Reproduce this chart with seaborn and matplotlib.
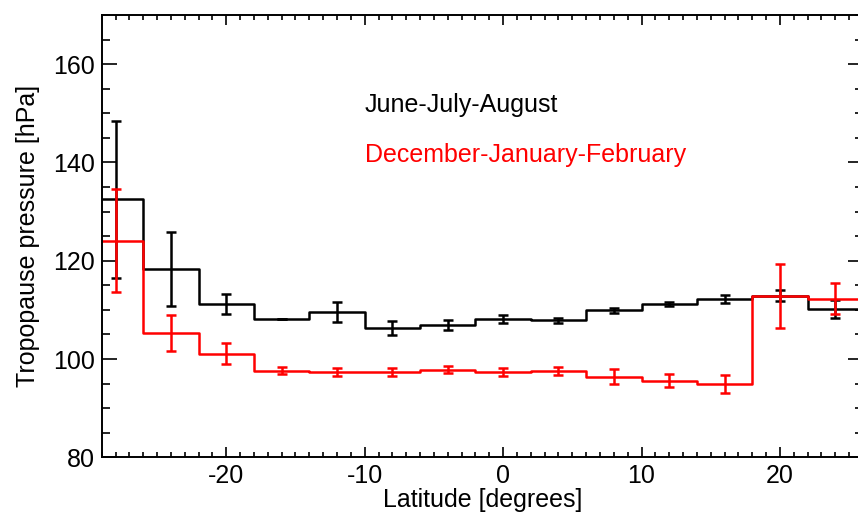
import numpy as np
import pandas as pd
import matplotlib
matplotlib.use("Agg")
import matplotlib.pyplot as plt
import seaborn as sns
from matplotlib.ticker import MultipleLocator

sns.set_theme(style="white")
plt.rcParams['font.family'] = ['Liberation Sans', 'DejaVu Sans']
plt.rcParams['axes.unicode_minus'] = False
plt.rcParams['text.color'] = 'black'
plt.rcParams['axes.labelcolor'] = 'black'
plt.rcParams['xtick.color'] = 'black'
plt.rcParams['ytick.color'] = 'black'

latitude = [-28, -24, -20, -16, -12, -8, -4, 0, 4, 8, 12, 16, 20, 24]
jja = [132.5, 118.3, 111.2, 108.1, 109.6, 106.3, 107.0, 108.1, 107.9, 109.9, 111.2, 112.2, 112.9, 110.2]
jja_err = [16.0, 7.6, 2.0, 0.0, 2.0, 1.5, 1.0, 0.8, 0.5, 0.5, 0.5, 0.8, 1.1, 1.9]
djf = [124.1, 105.3, 101.1, 97.6, 97.3, 97.3, 97.8, 97.3, 97.6, 96.4, 95.6, 94.9, 112.9, 112.3]
djf_err = [10.4, 3.6, 2.2, 0.7, 0.8, 0.8, 0.7, 0.8, 0.8, 1.5, 1.3, 1.85, 6.5, 3.2]
bin_width = 4.0

fig = plt.figure(figsize=(8.58, 5.14), dpi=100)
ax = fig.add_axes([0.1185, 0.1103, 0.8873, 0.8605])

lat = np.array(latitude, dtype=float)
edges = np.append(lat - bin_width / 2, lat[-1] + bin_width / 2)

for vals, errs, col in [(jja, jja_err, 'black'), (djf, djf_err, '#ff0000')]:
    v = np.array(vals)
    df = pd.DataFrame({'x': edges, 'y': np.append(v, v[-1])})
    sns.lineplot(data=df, x='x', y='y', drawstyle='steps-post', color=col,
                 lw=1.8, estimator=None, sort=False, ax=ax)
    ax.errorbar(lat, v, yerr=errs, fmt='none', ecolor=col, elinewidth=1.8,
                capsize=3.5, capthick=1.8)

ax.set_xlim(-29, 26)
ax.set_ylim(80, 170)
ax.set_xticks([-20, -10, 0, 10, 20])
ax.set_yticks([80, 100, 120, 140, 160])
ax.xaxis.set_minor_locator(MultipleLocator(1))
ax.yaxis.set_minor_locator(MultipleLocator(5))
ax.tick_params(which='both', direction='in', top=True, right=True,
               bottom=True, left=True, color='black', width=1.2)
ax.tick_params(axis='x', which='major', length=7.2, labelsize=18, pad=4.5)
ax.tick_params(axis='x', which='minor', length=3.6)
ax.tick_params(axis='y', which='major', length=10.8, labelsize=18, pad=5)
ax.tick_params(axis='y', which='minor', length=5.8)
for s in ax.spines.values():
    s.set_color('black')
    s.set_linewidth(1.4)

ax.set_xlabel('Latitude [degrees]', fontsize=18, labelpad=0)
ax.set_ylabel('Tropopause pressure [hPa]', fontsize=18, labelpad=9)

ax.text(-10.0, 151.7, 'June-July-August', color='black', fontsize=18, va='center')
ax.text(-10.0, 141.6, 'December-January-February', color='#ff0000', fontsize=18, va='center')

fig.savefig('out.png', dpi=100)
